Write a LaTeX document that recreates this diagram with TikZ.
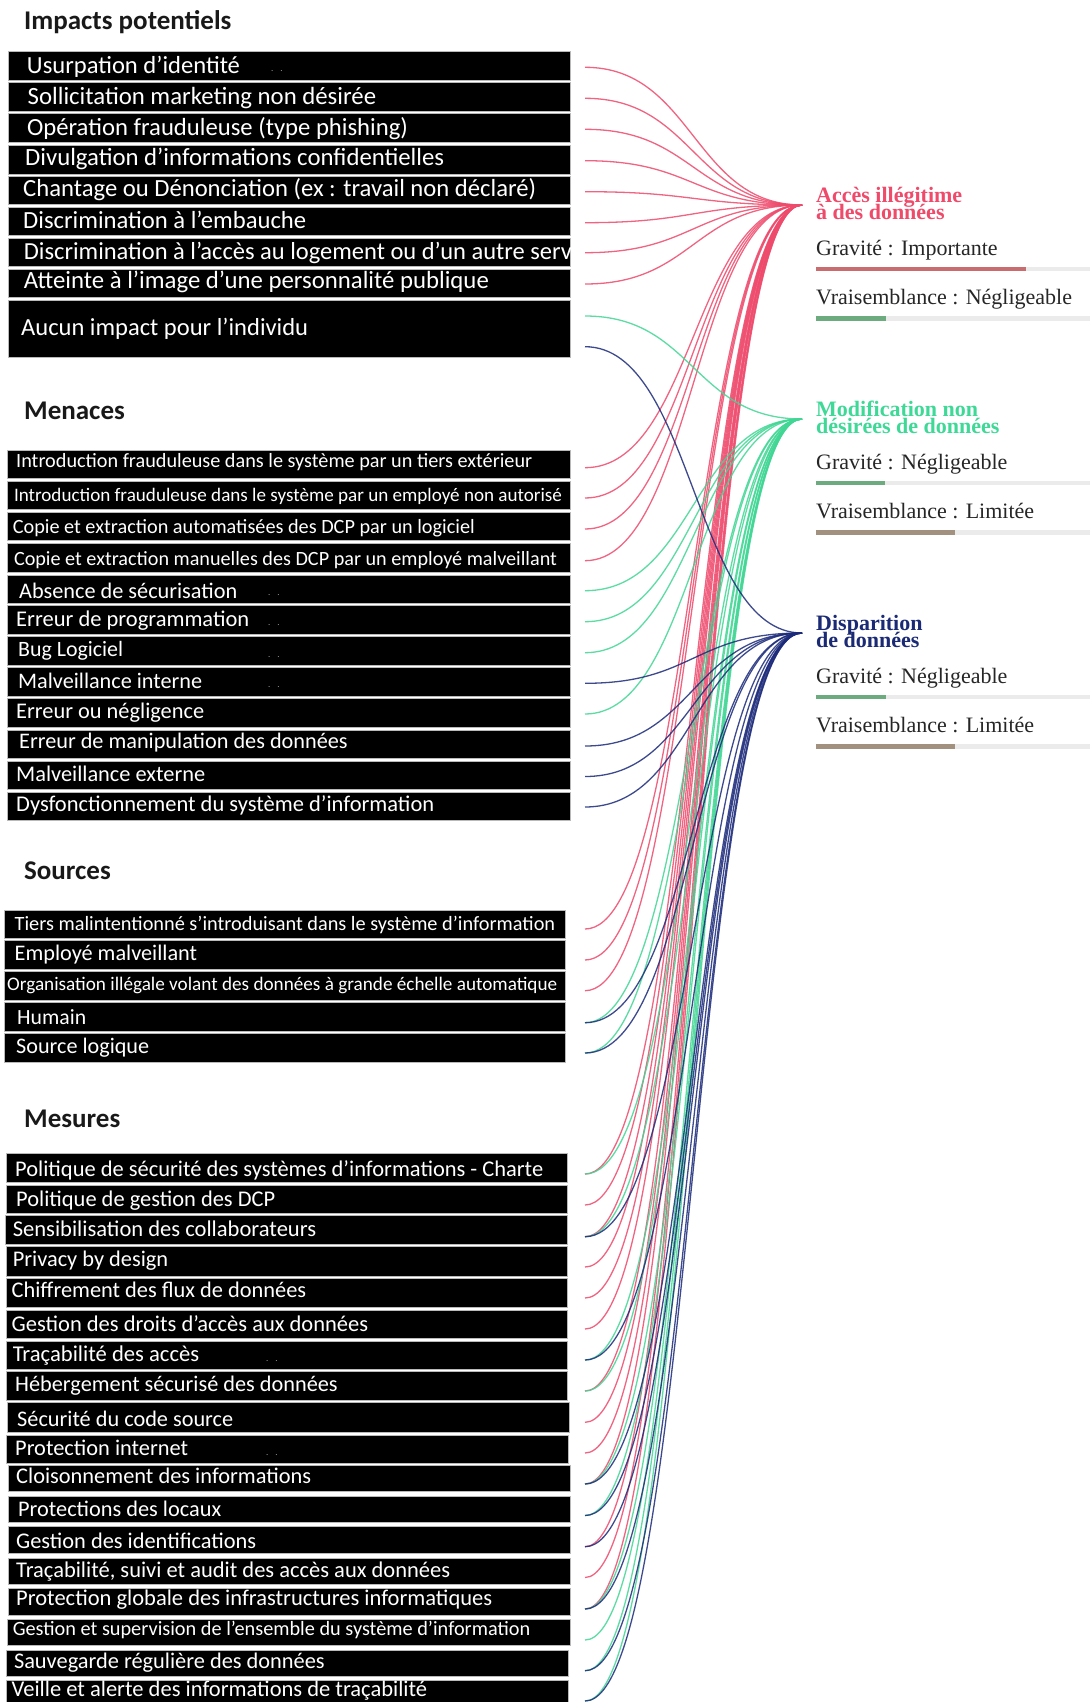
\documentclass[tikz,border=0pt]{standalone}
\usepackage{fontspec}
\usepackage{graphicx}
\setmainfont{Carlito}
\newfontfamily\tnr{Liberation Serif}
\usetikzlibrary{calc}
\definecolor{cA}{HTML}{F04A6B}
\definecolor{lA}{HTML}{EE4A6C}
\definecolor{cM}{HTML}{3ED897}
\definecolor{lM}{HTML}{40D694}
\definecolor{cD}{HTML}{1B2A75}
\definecolor{lD}{HTML}{1C2A7A}
\definecolor{barR}{HTML}{C86C70}
\definecolor{barG}{HTML}{6BAB7E}
\definecolor{barT}{HTML}{A39180}
\definecolor{barBg}{HTML}{EBEBEB}
\tikzset{
 bx/.style={draw=gray!55, line width=1pt, fill=black, inner sep=0pt, outer sep=0pt},
 txt/.style={anchor=base west, inner sep=0pt, text=white, font=\fontsize{22}{26}\selectfont},
 ttl/.style={anchor=base west, inner sep=0pt, text=black!90, font=\fontsize{27}{32}\selectfont\bfseries},
 dotm/.style={anchor=base west, inner sep=0pt, text=gray!75, font=\fontsize{9}{10}\selectfont},
 rt/.style={anchor=base west, inner sep=0pt, text=black!85, font=\tnr\fontsize{22}{26}\selectfont},
 rtt/.style={anchor=base west, inner sep=0pt, font=\tnr\bfseries\fontsize{22}{26}\selectfont},
 lnk/.style={line width=1.3pt, opacity=0.85},
 redl/.style={lnk, draw=lA},
 grnl/.style={lnk, draw=lM},
 navl/.style={lnk, draw=lD},
 barbg/.style={draw=barBg, line width=4.5pt},
}
\newcommand\fw[2]{\resizebox{#1pt}{!}{#2}}
% name, left, top, right, bottom, text x, baseline, text
\newcommand\rowbox[8]{%
  \node[bx, anchor=north west, minimum width={(#4-#2)*1pt}, minimum height={(#5-#3)*1pt}] (#1) at (#2,#3) {};
  \begin{scope}
    \clip (#1.north west) rectangle (#1.south east);
    \node[txt] (#1t) at (#6,#7) {#8};
  \end{scope}
}
\newcommand\dotsat[3]{\node[dotm] (#1) at (#2,#3) {.\hspace{7pt}.};}
\newcommand\lk[3]{\draw[#1] (#2) .. controls ($(#2)+(108.5,0)$) and ($(#3)+(-108.5,0)$) .. (#3);}
\begin{document}
\begin{tikzpicture}[x=1pt,y=-1pt]
\useasboundingbox[fill=white] (0,0) rectangle (1090,1702);

% ---------- titles
\node[ttl] (tImp) at (24,29.4) {Impacts potentiels};
\node[ttl] (tMen) at (24,419) {Menaces};
\node[ttl] (tSrc) at (24,879.5) {Sources};
\node[ttl] (tMes) at (24,1127) {Mesures};

% ---------- impacts
\rowbox{i1}{8}{51.7}{570}{80}{26.8}{74}{\fw{213}{Usurpation d’identité}}
\rowbox{i2}{8}{82.7}{570}{111}{27.5}{104}{\fw{348.5}{Sollicitation marketing non désirée}}
\rowbox{i3}{8}{113.3}{570}{142.7}{26.8}{135}{\fw{381}{Opération frauduleuse (type phishing)}}
\rowbox{i4}{8}{145}{570}{174}{25}{165.7}{\fw{419}{Divulgation d’informations confidentielles}}
\rowbox{i5}{8}{176.7}{570}{204.3}{23}{196.7}{\fw{513}{Chantage ou Dénonciation (ex : travail non déclaré)}}
\rowbox{i6}{8}{207.3}{570}{235.3}{23}{228}{\fw{283}{Discrimination à l’embauche}}
\rowbox{i7}{8}{238}{570}{266.7}{23.7}{259.5}{{\fontsize{24.5}{28}\selectfont Discrimination à l’accès au logement ou d’un autre service}}
\rowbox{i8}{8}{269.3}{570}{297.7}{23.7}{288}{\fw{465}{Atteinte à l’image d’une personnalité publique}}
\rowbox{i9}{8}{300}{570}{357.3}{21}{335}{\fw{287}{Aucun impact pour l’individu}}
\dotsat{i1d}{271}{71}

% ---------- menaces
\rowbox{m1}{7.7}{450}{570}{478.3}{16}{467.5}{\fw{516}{Introduction frauduleuse dans le système par un tiers extérieur}}
\rowbox{m2}{7.7}{481}{570}{509.3}{13.8}{501}{\fw{548}{Introduction frauduleuse dans le système par un employé non autorisé}}
\rowbox{m3}{7.7}{512.3}{570}{540.7}{12.6}{533.3}{\fw{462}{Copie et extraction automatisées des DCP par un logiciel}}
\rowbox{m4}{7.7}{543.3}{570}{572.3}{13.8}{565}{\fw{543}{Copie et extraction manuelles des DCP par un employé malveillant}}
\rowbox{m5}{7.7}{575}{570}{603.3}{19}{598}{\fw{218}{Absence de sécurisation}}
\rowbox{m6}{7.7}{605.7}{570}{634.3}{16}{626.7}{\fw{233}{Erreur de programmation}}
\rowbox{m7}{7.7}{636.7}{570}{665}{18}{656}{\fw{105}{Bug Logiciel}}
\rowbox{m8}{7.7}{667.7}{570}{696}{18}{688.3}{\fw{184}{Malveillance interne}}
\rowbox{m9}{7.7}{698.3}{570}{727.3}{16}{718.3}{\fw{188}{Erreur ou négligence}}
\rowbox{m10}{7.7}{730}{570}{758.3}{19}{748.3}{\fw{328.5}{Erreur de manipulation des données}}
\rowbox{m11}{7.7}{761}{570}{789.3}{16}{781.7}{\fw{189}{Malveillance externe}}
\rowbox{m12}{7.7}{792.3}{570}{820.7}{16}{811.7}{\fw{418}{Dysfonctionnement du système d’information}}
\dotsat{m5d}{268}{595}
\dotsat{m6d}{268}{625}
\dotsat{m7d}{268}{657}
\dotsat{m8d}{268}{687}

% ---------- sources
\rowbox{s1}{4.6}{910}{565.6}{938.3}{14.5}{930}{\fw{540.5}{Tiers malintentionné s’introduisant dans le système d’information}}
\rowbox{s2}{4.6}{940.7}{565.6}{969}{14.5}{960}{\fw{182.5}{Employé malveillant}}
\rowbox{s3}{4.6}{971.7}{565.6}{1000.7}{7}{990}{\fw{550}{Organisation illégale volant des données à grande échelle automatique}}
\rowbox{s4}{4.6}{1002.7}{565.6}{1031}{17}{1024}{\fw{69}{Humain}}
\rowbox{s5}{4.6}{1033.3}{565.6}{1062.3}{16}{1053.3}{\fw{133}{Source logique}}

% ---------- mesures
\rowbox{p1}{6}{1153.3}{567}{1182.3}{15}{1176.5}{\fw{528}{Politique de sécurité des systèmes d’informations - Charte}}
\rowbox{p2}{6}{1185}{567}{1213.3}{16}{1206.5}{\fw{259}{Politique de gestion des DCP}}
\rowbox{p3}{5}{1215.7}{567}{1244.3}{12.6}{1236}{\fw{303.4}{Sensibilisation des collaborateurs}}
\rowbox{p4}{6}{1246.7}{567}{1276}{12.6}{1266.7}{\fw{155.4}{Privacy by design}}
\rowbox{p5}{6}{1278.3}{567}{1307.3}{11.5}{1297}{\fw{294.5}{Chiffrement des flux de données}}
\rowbox{p6}{6}{1310}{567}{1338.3}{11.5}{1331.5}{\fw{356.5}{Gestion des droits d’accès aux données}}
\rowbox{p7}{6}{1341}{567}{1369.3}{12.6}{1361.5}{\fw{186.4}{Traçabilité des accès}}
\rowbox{p8}{6}{1371.7}{567}{1400.7}{15}{1391.7}{\fw{322.5}{Hébergement sécurisé des données}}
\rowbox{p9}{7}{1402.7}{569}{1432.7}{17}{1426.5}{\fw{216}{Sécurité du code source}}
\rowbox{p10}{6.5}{1435}{568}{1463.3}{15}{1455}{\fw{173}{Protection internet}}
\rowbox{p11}{8}{1465}{570}{1491.7}{16}{1483.5}{\fw{295}{Cloisonnement des informations}}
\rowbox{p12}{8}{1496}{570}{1522.7}{18}{1516.5}{\fw{203}{Protections des locaux}}
\rowbox{p13}{8}{1526.7}{570}{1553.3}{16}{1548}{\fw{240}{Gestion des identifications}}
\rowbox{p14}{8}{1558.3}{570}{1584}{16}{1577}{\fw{434}{Traçabilité, suivi et audit des accès aux données}}
\rowbox{p15}{8}{1588.3}{570}{1615}{16}{1605.5}{\fw{476}{Protection globale des infrastructures informatiques}}
\rowbox{p16}{7}{1619.3}{570}{1645}{12.6}{1635.5}{\fw{517.4}{Gestion et supervision de l’ensemble du système d’information}}
\rowbox{p17}{6.5}{1650}{568}{1676}{13.8}{1668.5}{\fw{310.7}{Sauvegarde régulière des données}}
\rowbox{p18}{6.5}{1680}{568}{1702}{11.5}{1696.5}{\fw{415.5}{Veille et alerte des informations de traçabilité}}
\dotsat{p7d}{266}{1361}
\dotsat{p10d}{266}{1455}

% ---------- right panel
\coordinate (A) at (802,205);
\coordinate (M) at (802,419);
\coordinate (D) at (802,633);

\node[rtt, text=cA] (accT) at (816,202.5) {\vtop{\lineskiplimit=-100pt\baselineskip=16.7pt\hbox{Accès illégitime}\hbox{à des données}}};
\node[rt] (accG) at (816,255) {Gravité : Importante};
\draw[barbg] (816,269.1) -- (1090,269.1);
\draw[draw=barR, line width=4.5pt] (816,269.1) -- (1025.5,269.1);
\node[rt] (accV) at (816,304) {Vraisemblance : Négligeable};
\draw[barbg] (816,318.5) -- (1090,318.5);
\draw[draw=barG, line width=4.5pt] (816,318.5) -- (886,318.5);

\node[rtt, text=cM] (modT) at (816,416.5) {\vtop{\lineskiplimit=-100pt\baselineskip=16.7pt\hbox{Modification non}\hbox{désirées de données}}};
\node[rt] (modG) at (816,469) {Gravité : Négligeable};
\draw[barbg] (816,483.1) -- (1090,483.1);
\draw[draw=barG, line width=4.5pt] (816,483.1) -- (885,483.1);
\node[rt] (modV) at (816,518) {Vraisemblance : Limitée};
\draw[barbg] (816,532.5) -- (1090,532.5);
\draw[draw=barT, line width=4.5pt] (816,532.5) -- (955,532.5);

\node[rtt, text=cD] (disT) at (816,630.5) {\vtop{\lineskiplimit=-100pt\baselineskip=16.7pt\hbox{Disparition}\hbox{de données}}};
\node[rt] (disG) at (816,683) {Gravité : Négligeable};
\draw[barbg] (816,697.1) -- (1090,697.1);
\draw[draw=barG, line width=4.5pt] (816,697.1) -- (886,697.1);
\node[rt] (disV) at (816,732) {Vraisemblance : Limitée};
\draw[barbg] (816,746.5) -- (1090,746.5);
\draw[draw=barT, line width=4.5pt] (816,746.5) -- (955,746.5);

% ---------- connector start points
\foreach \n/\y in {i1s/67.3,i2s/98.3,i3s/129.3,i4s/160.7,i5s/191.7,i6s/222.7,i7s/252.7,i8s/284,i9g/316,i9n/346.7,
  m1s/467.7,m2s/498,m3s/529,m4s/560.7,m5s/590.7,m6s/621.7,m7s/652.7,m8s/683.3,m9s/714,m10s/746,m11s/776.5,m12s/807,
  s1s/929,s2s/960,s3s/990.7,s4s/1022.7,s5s/1053,
  p1s/1174,p2s/1205,p3s/1236.7,p4s/1267,p5s/1298,p6s/1329,p7s/1360,p8s/1391,p9s/1422.3,p10s/1453,
  p11s/1484,p12s/1515.5,p13s/1546.7,p14s/1577.5,p15s/1609,p16s/1640,p17s/1670.7,p18s/1701}
  {\coordinate (\n) at (585,\y);}

% ---------- connectors
\foreach \s in {i1s,i2s,i3s,i4s,i5s,i6s,i7s,i8s,m1s,m2s,m3s,m4s,s1s,s2s,s3s,
  p1s,p2s,p3s,p4s,p5s,p6s,p8s,p9s,p10s,p11s,p13s,p14s,p15s}
  {\lk{redl}{\s}{A}}
\foreach \s in {i9g,m5s,m6s,m7s,m9s,s4s,s5s,p1s,p3s,p7s,p8s,p11s,p12s,p15s,p16s,p17s,p18s}
  {\lk{grnl}{\s}{M}}
\foreach \s in {i9n,m8s,m10s,m11s,m12s,s4s,s5s,p3s,p7s,p11s,p12s,p13s,p15s,p17s,p18s}
  {\lk{navl}{\s}{D}}
\end{tikzpicture}
\end{document}
